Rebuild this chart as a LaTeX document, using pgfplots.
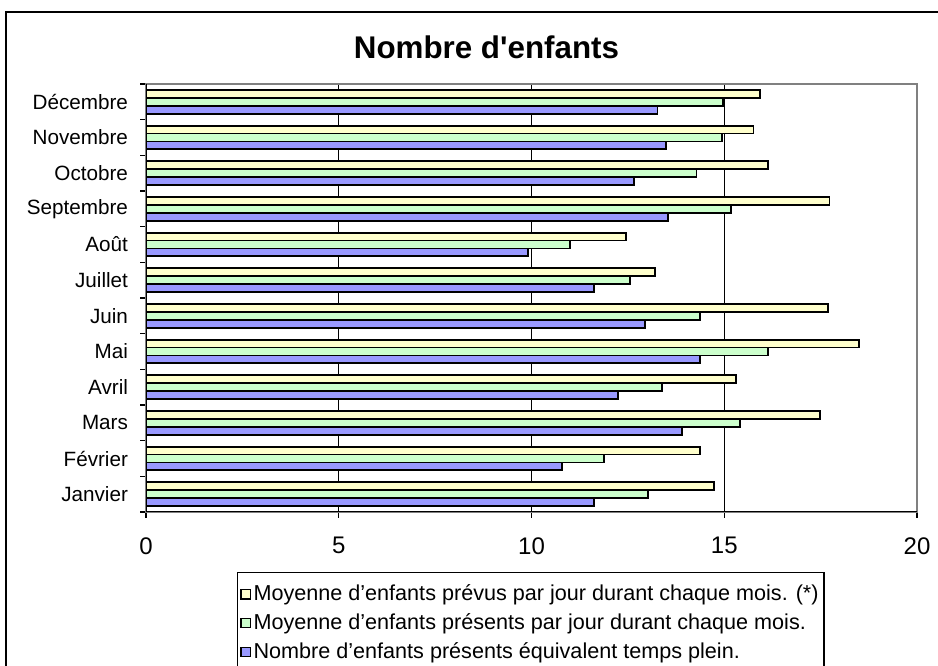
\documentclass[border=0pt]{standalone}
\usepackage{pgfplots}
\pgfplotsset{compat=1.18}
\usepackage{fontspec}
\setmainfont{Liberation Sans}
\newfontfamily\titlefont{Liberation Sans}
\definecolor{cyel}{HTML}{FFFFCC}
\definecolor{cgrn}{HTML}{CCFFCC}
\definecolor{cblu}{HTML}{9999FF}
\definecolor{bordergray}{HTML}{808080}
% month index, yellow (prevus), green (presents), blue (ETP)
\pgfplotstableread{
m  prev  pres  etp
0  14.74 13.03 11.62
1  14.37 11.88 10.79
2  17.49 15.41 13.90
3  15.30 13.39 12.24
4  18.50 16.13 14.37
5  17.69 14.37 12.95
6  13.20 12.55 11.62
7  12.44 10.99 9.90
8  17.73 15.18 13.53
9  16.13 14.28 12.65
10 15.76 14.95 13.49
11 15.92 14.97 13.27
}\datatable
\begin{document}
\begin{tikzpicture}
\useasboundingbox (0pt,0pt) rectangle (703.5pt,499.5pt);
\fill[white] (0pt,0pt) rectangle (703.5pt,499.5pt);
\draw[line width=1.1pt] (4.5pt,490.5pt) rectangle (735pt,-20pt);
\begin{axis}[
  at={(109.5pt,115.5pt)}, anchor=south west,
  scale only axis, width=578.25pt, height=321pt,
  xmin=0, xmax=20, ymin=-0.5, ymax=11.5,
  xtick={0,5,10,15,20},
  ytick={-0.5,0.5,...,11.5},
  y tick label as interval,
  yticklabels={Janvier,Février,Mars,Avril,Mai,Juin,Juillet,Août,Septembre,Octobre,Novembre,Décembre},
  tick align=outside, tick pos=left,
  major tick length=4.5pt,
  tick style={black, line width=0.9pt},
  /pgf/number format/assume math mode=true,
  xticklabel style={font=\fontsize{18}{20}\selectfont, yshift=-11pt},
  yticklabel style={font=\fontsize{15.5}{18}\selectfont, xshift=-5.5pt},
  xmajorgrids,
  major grid style={black, line width=0.8pt},
  axis line style={draw=bordergray, line width=1.1pt},
  title={\titlefont\bfseries Nombre d'enfants},
  title style={at={(axis description cs:0.4416,1.04)}, anchor=base, font=\fontsize{23.5}{27}\selectfont},
  legend style={at={(axis description cs:0.118,-0.1402)}, anchor=north west,
    draw=black, line width=0.9pt, font=\fontsize{16.2}{19}\selectfont,
    row sep=4.2pt, inner xsep=2pt, inner ysep=7pt},
  legend cell align=left,
  legend image code/.code={\draw[#1, line width=1pt] (0.5pt,-4pt) rectangle (7.5pt,3pt);},
]
\addplot[xbar, bar width=5.94pt, bar shift=5.94pt, fill=cyel, draw=black, line width=1.4pt] table[x=prev, y=m] {\datatable};
\addplot[xbar, bar width=5.94pt, bar shift=0pt, fill=cgrn, draw=black, line width=1.4pt] table[x=pres, y=m] {\datatable};
\addplot[xbar, bar width=5.94pt, bar shift=-5.94pt, fill=cblu, draw=black, line width=1.4pt] table[x=etp, y=m] {\datatable};
\legend{Moyenne d’enfants prévus par jour durant chaque mois. (*),
        Moyenne d’enfants présents par jour durant chaque mois.,
        Nombre d’enfants présents équivalent temps plein.}
\draw[black, line width=1.1pt] (rel axis cs:0,1) -- (rel axis cs:0,0) -- (rel axis cs:1,0);
\end{axis}
\end{tikzpicture}
\end{document}
